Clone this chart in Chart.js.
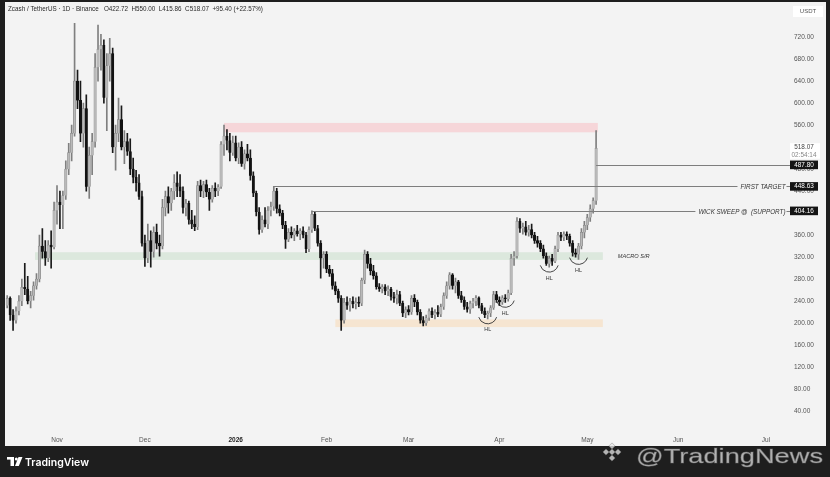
<!DOCTYPE html>
<html><head><meta charset="utf-8">
<script src="https://cdn.jsdelivr.net/npm/chart.js@4.4.1/dist/chart.umd.min.js"></script>
<style>html,body{margin:0;padding:0;background:#1e1e1e;overflow:hidden}canvas{display:block}</style>
</head><body>
<canvas id="c" width="830" height="477"></canvas>
<script>
// ---- DATA (daily candles, Oct 15 2025 -> May 2026) ----
const opens=[232,245,215,205,222,240,265,262,240,250,
268,280,340,330,318,342,338,405,420,415,
432,480,510,545,640,605,545,590,448,505,
530,665,698,705,610,668,690,520,545,570,
520,530,512,480,465,455,430,345,318,350,
330,365,345,340,410,430,418,440,455,448,
440,410,418,388,380,375,450,440,452,438,
425,445,440,448,525,540,532,510,528,500,
520,490,508,500,468,436,402,370,388,380,
405,412,440,408,400,378,352,365,360,368,
362,368,360,335,370,398,372,345,318,325,
298,290,268,258,245,205,238,232,240,235,
238,236,278,325,308,295,286,266,262,266,
258,262,248,245,252,236,218,225,220,245,
238,220,205,200,210,222,215,220,216,230,
250,268,288,268,275,250,242,230,225,236,
240,246,232,222,215,218,228,252,242,238,
246,244,255,318,322,385,372,375,365,370,
360,350,345,335,322,308,318,312,335,360,
356,362,358,345,328,325,340,365,378,392,
408,422.72];
const highs=[250,248,225,230,250,280,309,285,258,275,
290,360,372,350,350,368,420,450,440,440,
495,527,560,745,660,640,600,615,520,545,
690,742,725,715,690,718,700,560,609,595,
550,545,535,500,478,470,440,360,380,368,
375,380,360,425,440,448,445,470,475,470,
448,425,422,405,395,458,460,458,460,445,
450,455,452,530,560,552,545,540,540,528,
530,515,525,515,475,440,410,395,410,412,
420,448.63,445,415,405,385,372,375,372,378,
372,375,365,375,404.16,402,378,350,330,330,
305,298,275,262,250,245,248,245,248,246,
248,282,333,330,318,305,292,272,270,270,
268,265,256,260,258,240,230,232,250,252,
242,225,212,215,226,228,225,232,235,255,
275,292,290,282,278,258,248,238,240,245,
250,248,236,228,222,232,258,258,248,250,
252,260,325,330,392,390,382,385,378,380,
365,358,350,342,328,322,325,340,365,365,
366,366,362,350,335,345,372,385,398,415,
428,550];
const lows=[228,205,187,200,215,232,252,235,228,242,
262,275,318,305,312,300,335,380,372,372,
425,470,495,540,590,530,520,440,427,470,
520,640,660,600,550,640,510,478,530,515,
490,505,470,455,440,425,340,303,310,302,
320,335,322,335,395,400,405,425,430,430,
400,395,380,372,368,370,430,428,430,405,
420,430,432,445,505,515,495,505,495,490,
485,480,495,460,430,395,362,365,375,372,
395,405,400,395,372,336,348,355,350,358,
352,355,328,330,365,368,340,282,300,292,
285,262,252,238,187,200,225,222,228,226,
230,232,272,300,288,280,262,258,255,252,
250,242,238,235,232,212,210,215,216,230,
215,200,195,196,205,210,208,212,212,225,
245,262,262,255,245,238,225,220,218,228,
232,228,218,210,208,212,225,238,232,234,
238,240,252,305,318,365,362,360,358,355,
345,338,330,318,305,302,305,310,330,350,
350,352,340,322,320,316,335,355,370,385,
400,415.86];
const closes=[245,215,205,222,240,265,262,240,250,268,
280,340,330,318,342,338,405,420,415,432,
480,510,545,640,605,545,590,448,505,530,
665,698,705,610,668,690,520,545,570,520,
530,512,480,465,455,430,345,318,350,330,
365,345,340,410,430,418,440,455,448,440,
410,418,388,380,375,450,440,452,438,425,
445,440,448,525,540,532,510,528,500,520,
490,508,500,468,436,402,370,388,380,405,
412,440,408,400,378,352,365,360,368,362,
368,360,335,370,398,372,345,318,325,298,
290,268,258,245,205,238,232,240,235,238,
236,278,325,308,295,286,266,262,266,258,
262,248,245,252,236,218,225,220,245,238,
220,205,200,210,222,215,220,216,230,250,
268,288,268,275,250,242,230,225,236,240,
246,232,222,215,218,228,252,242,238,246,
244,255,318,322,385,372,375,365,370,360,
350,345,335,322,308,318,312,335,360,356,
362,358,345,328,325,340,365,378,392,408,
422.72,518.07];

// x-axis: month starts (candle index) and labels
const monthTicks=[17,47,78,109,137,168,198,229,259];
const monthLabels=['Nov','Dec','2026','Feb','Mar','Apr','May','Jun','Jul'];
// price axis ticks
const priceTicks=[40,80,120,160,200,240,280,320,360,400,440,480,520,560,600,640,680,720];

// drawn zones (price bands) and their candle-index spans
const zoneLow=[547,315,193];
const zoneHigh=[564,329,207];
const zoneFrom=[74,9.5,112];
const zoneTo=[201.6,203.3,203.3];
const zoneColors=['#f6d6d9','#dce8dd','#f6e5d1'];
// horizontal levels
const levelValues=[487.80,448.63,404.16];
const levelFrom=[201,91,104];
const levelText=['','FIRST TARGET','WICK SWEEP @  (SUPPORT)'];
// higher-low marks (candle indices)
const hlIdx=[164,170,185,195];
const lastPrice=518.07, countdown='02:54:14';
const header='Zcash / TetherUS · 1D · Binance   O422.72  H550.00  L415.86  C518.07  +95.40 (+22.57%)';

const FONT='"Liberation Sans", Arial, sans-serif';
const idx=closes.map((_,i)=>i);
const up=i=>closes[i]>=opens[i];

const annot={
  id:'annot',
  beforeDraw(chart){
    const c=chart.ctx;c.save();
    c.fillStyle='#1e1e1e';c.fillRect(0,0,830,477);
    c.fillStyle='#f3f3f3';c.fillRect(5,2,821,444);
    c.restore();
  },
  beforeDatasetsDraw(chart){
    const c=chart.ctx,a=chart.chartArea,x=chart.scales.x,y=chart.scales.y;
    c.save();c.beginPath();c.rect(a.left,a.top,a.right-a.left,a.bottom-a.top);c.clip();
    for(let k=0;k<zoneLow.length;k++){
      const x0=x.getPixelForValue(zoneFrom[k]),x1=x.getPixelForValue(zoneTo[k]);
      const y0=y.getPixelForValue(zoneHigh[k]),y1=y.getPixelForValue(zoneLow[k]);
      c.fillStyle=zoneColors[k];c.fillRect(x0,y0,x1-x0,y1-y0);
    }
    c.restore();
  },
  afterDatasetsDraw(chart){
    const c=chart.ctx,a=chart.chartArea,x=chart.scales.x,y=chart.scales.y;
    c.save();
    c.strokeStyle='#7d7d7d';c.lineWidth=1;
    c.font='italic 6.3px '+FONT;c.textBaseline='middle';c.fillStyle='#333';
    for(let k=0;k<levelValues.length;k++){
      const yy=Math.round(y.getPixelForValue(levelValues[k]))+0.5;
      const xs=x.getPixelForValue(levelFrom[k]);
      const end=a.right+2;
      if(levelText[k]){
        const w=c.measureText(levelText[k]).width;
        const tr=785.5;
        c.beginPath();c.moveTo(xs,yy);c.lineTo(tr-w-3,yy);c.moveTo(tr+1,yy);c.lineTo(end,yy);c.stroke();
        c.textAlign='right';c.fillText(levelText[k],tr,yy+0.3);
      }else{
        c.beginPath();c.moveTo(xs,yy);c.lineTo(end,yy);c.stroke();
      }
    }
    // macro S/R label
    c.font='italic 5.6px '+FONT;c.textAlign='left';c.fillStyle='#333';
    c.fillText('MACRO S/R',x.getPixelForValue(zoneTo[1])+15,y.getPixelForValue((zoneLow[1]+zoneHigh[1])/2)+0.5);
    // HL arcs
    c.strokeStyle='#333';c.lineWidth=0.9;
    c.font='5.4px '+FONT;c.textAlign='center';
    hlIdx.forEach(i=>{
      const cx=x.getPixelForValue(i),ly=y.getPixelForValue(lows[i]);
      c.beginPath();c.arc(cx,ly-4.3,9.3,Math.PI*0.09,Math.PI*0.91);c.stroke();
      c.fillText('HL',cx,ly+11);
    });
    c.restore();
  },
  afterDraw(chart){
    const c=chart.ctx,a=chart.chartArea,y=chart.scales.y;
    c.save();
    // price level boxes
    c.font='6.4px '+FONT;c.textAlign='center';c.textBaseline='middle';
    levelValues.forEach(v=>{
      const yy=y.getPixelForValue(v);
      c.fillStyle='#141414';c.fillRect(790,yy-4.3,28,8.6);
      c.fillStyle='#ffffff';c.fillText(v.toFixed(2),804,yy+0.3);
    });
    // last price box
    const ly=y.getPixelForValue(lastPrice);
    c.fillStyle='#ffffff';c.fillRect(790,ly-5,30,15.5);
    c.fillStyle='#444';c.fillText(lastPrice.toFixed(2),804,ly-0.5);
    c.fillStyle='#888';c.fillText(countdown,804,ly+7);
    // USDT
    c.fillStyle='#ffffff';c.fillRect(793,6,30,11);
    c.fillStyle='#555';c.font='6px '+FONT;c.fillText('USDT',808,11.8);
    // header
    c.textAlign='left';c.fillStyle='#2a2a2a';c.font='6.3px '+FONT;
    c.fillText(header,8,9.5);
    // footer logo
    c.fillStyle='#ffffff';
    c.fillRect(7,457,7,2.6);c.fillRect(10.5,457,3.5,9);
    c.beginPath();c.arc(16.3,459,1.5,0,Math.PI*2);c.fill();
    c.beginPath();c.moveTo(18.5,457);c.lineTo(22.5,457);c.lineTo(18.8,466);c.lineTo(15,466);c.closePath();c.fill();
    c.font='600 10.5px Inter, '+FONT;c.textBaseline='alphabetic';
    c.fillText('TradingView',25,466);
    // watermark
    c.save();
    c.globalAlpha=0.75;
    c.fillStyle='#e6e6e6';c.strokeStyle='rgba(110,110,110,0.6)';c.lineWidth=0.8;
    const dx=612,dy=452;
    [[0,-6],[-6,0],[6,0],[0,6],[0,0]].forEach(p=>{
      c.save();c.translate(dx+p[0],dy+p[1]);c.rotate(Math.PI/4);c.fillRect(-2.2,-2.2,4.4,4.4);c.strokeRect(-2.2,-2.2,4.4,4.4);c.restore();
    });
    c.font='21px '+FONT;
    const wt='@TradingNews';
    const ww=c.measureText(wt).width;
    c.save();c.translate(636,463);c.scale(187/ww,1);
    c.fillText(wt,0,0);c.strokeText(wt,0,0);c.restore();
    c.restore();
    c.restore();
  }
};

new Chart(document.getElementById('c').getContext('2d'),{
  type:'bar',
  data:{datasets:[
    {label:'body',data:idx.map(i=>({x:i,y:[opens[i],closes[i]]})),grouped:false,barThickness:2.4,minBarLength:1,
     backgroundColor:ctx=>up(ctx.dataIndex)?'#b9b9b9':'#121212',
     borderColor:ctx=>up(ctx.dataIndex)?'#7e7e7e':'#121212',borderWidth:0.5,order:0},
    {label:'wick',data:idx.map(i=>({x:i,y:[lows[i],highs[i]]})),grouped:false,barThickness:1,
     backgroundColor:ctx=>up(ctx.dataIndex)?'#7f7f7f':'#1a1a1a',borderWidth:0,order:1}
  ]},
  options:{
    responsive:false,animation:false,devicePixelRatio:1,
    layout:{padding:{left:5,top:3,right:0,bottom:0}},
    plugins:{legend:{display:false},tooltip:{enabled:false}},
    scales:{
      x:{type:'linear',min:-0.75,max:266.5,offset:false,
         grid:{display:false,drawTicks:false},border:{display:false},
         afterBuildTicks:s=>{s.ticks=monthTicks.map(v=>({value:v}));},
         afterFit:s=>{s.height=46.5;s.paddingLeft=0;s.paddingRight=0;},
         ticks:{autoSkip:false,maxRotation:0,padding:6,
           callback:(v,i)=>monthLabels[i],
           color:ctx=>ctx.index===2?'#222':'#555',
           font:ctx=>({family:FONT,size:6.5,weight:ctx.index===2?'bold':'normal'})}},
      y:{type:'linear',position:'right',min:5,max:782,
         grid:{display:false,drawTicks:false},border:{display:false},
         afterBuildTicks:s=>{s.ticks=priceTicks.map(v=>({value:v}));},
         afterFit:s=>{s.width=42;s.paddingTop=0;s.paddingBottom=0;},
         ticks:{padding:6,color:'#555',font:{family:FONT,size:6.5},callback:v=>Number(v).toFixed(2)}}
    }
  },
  plugins:[annot]
});
</script>
</body></html>
